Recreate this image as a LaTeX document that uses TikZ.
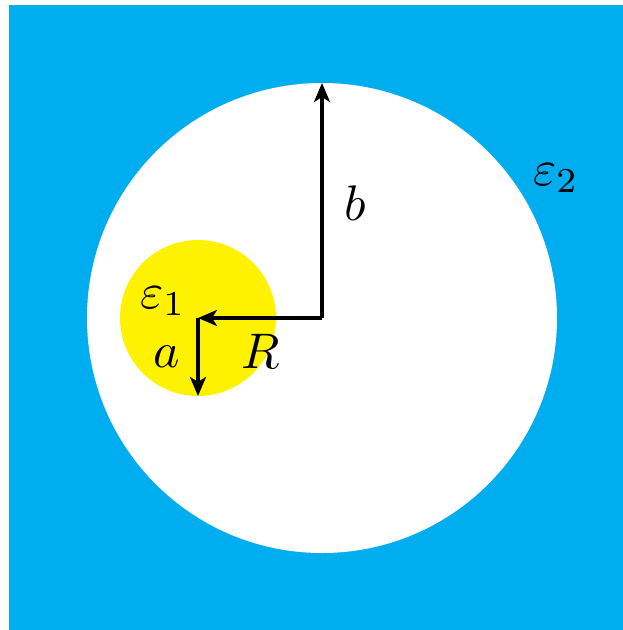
\documentclass[tikz,border=0pt]{standalone}
\usepackage{graphicx}
\usetikzlibrary{arrows.meta}
\definecolor{bgblue}{RGB}{0,174,239}
\definecolor{incyellow}{RGB}{255,242,0}
\begin{document}
\begin{tikzpicture}[x=1pt,y=-1pt,
  vec/.style={line width=3.5pt,-{Stealth[length=19pt,width=16pt,inset=5pt]}},
  lbl/.style={inner sep=0pt}]
\useasboundingbox (0,0) rectangle (623,630);
\fill[bgblue] (9,5) rectangle (623,630);
\fill[white] (322,318) circle[radius=235];
\fill[incyellow] (198,318) circle[radius=78];
\coordinate (O) at (322,318);
\coordinate (T) at (322,83);
\coordinate (C) at (198,318);
\coordinate (D) at (198,396);
\draw[vec] (O) -- (T);
\draw[vec] (O) -- (C);
\draw[vec] (C) -- (D);
\node[lbl] (b) at (355,203) {\scalebox{5}{$b$}};
\node[lbl] (R) at (261,351) {\scalebox{5}{$R$}};
\node[lbl] (a) at (167,357) {\scalebox{5}{$a$}};
\node[lbl] (e1) at (163,301) {\scalebox{5}{$\varepsilon_1$}};
\node[lbl] (e2) at (556,178) {\scalebox{5}{$\varepsilon_2$}};
\end{tikzpicture}
\end{document}
